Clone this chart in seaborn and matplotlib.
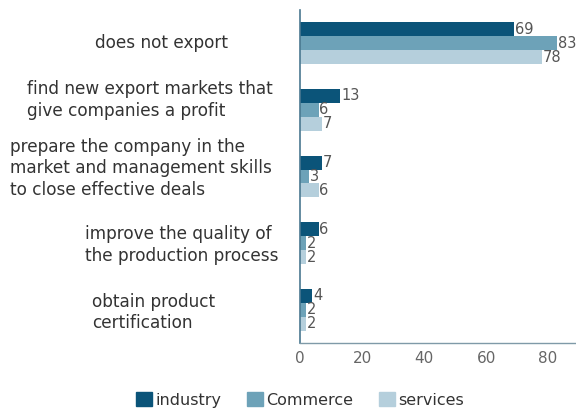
import matplotlib
matplotlib.use("Agg")
import matplotlib.pyplot as plt
import seaborn as sns
import pandas as pd

# Survey categories and the share of answers per sector
categories = [
    "does not export",
    "find new export markets that\ngive companies a profit",
    "prepare the company in the\nmarket and management skills\nto close effective deals",
    "improve the quality of\nthe production process",
    "obtain product\ncertification",
]
sectors = ["industry", "Commerce", "services"]
industry = [69, 13, 7, 6, 4]
commerce = [83, 6, 3, 2, 2]
services = [78, 7, 6, 2, 2]
x_ticks = [0, 20, 40, 60, 80]

colors = ["#0b5479", "#6da2b8", "#b5cfdc"]

df = pd.DataFrame({
    "category": categories * 3,
    "sector": [s for s in sectors for _ in categories],
    "value": industry + commerce + services,
})

sns.set_theme(style="white")
plt.rcParams["font.family"] = ["DejaVu Sans"]

fig = plt.figure(figsize=(5.76, 4.16), dpi=100)
W, H = 576, 416
ax = fig.add_axes([300 / W, (416 - 343) / H, 276 / W, 333 / H])

sns.barplot(data=df, y="category", x="value", hue="sector", order=categories,
            hue_order=sectors, palette=colors, orient="h", width=0.63,
            saturation=1, ax=ax, legend=False, gap=0, linewidth=0)

ax.set_xlim(0, 89)
ax.set_ylim(4.5, -0.5)
ax.set_xticks(x_ticks)
ax.set_xticklabels([str(t) for t in x_ticks], fontsize=11, color="#666666")
ax.tick_params(axis="x", length=0, pad=6)
ax.set_yticks([])
ax.set_xlabel("")
ax.set_ylabel("")

for side in ["top", "right"]:
    ax.spines[side].set_visible(False)
ax.spines["left"].set_color("#4a7890")
ax.spines["bottom"].set_color("#7f9aa8")
ax.spines["left"].set_linewidth(1.2)
ax.spines["bottom"].set_linewidth(1.0)

for cont in ax.containers:
    ax.bar_label(cont, padding=0.5, fontsize=10.5, color="#555555")

# Category labels, left-aligned blocks on the left side
label_left_px = [95, 27, 10, 85, 92]
label_dy_px = [0, 10, 8, -2, -3]
for i, (text, lx, dy) in enumerate(zip(categories, label_left_px, label_dy_px)):
    ax.annotate(text, xy=(lx / W, i), xycoords=("figure fraction", "data"),
                xytext=(0, dy), textcoords="offset pixels",
                ha="left", va="center", multialignment="left",
                fontsize=12.2, color="#333333", linespacing=1.25,
                annotation_clip=False)

handles = [plt.Rectangle((0, 0), 1, 1, color=c) for c in colors]
fig.legend(handles, sectors, loc="center", bbox_to_anchor=(300 / W, 1 - 400 / H),
           ncol=3, frameon=False, fontsize=11.5, handlelength=1.0,
           handleheight=1.0, handletextpad=0.2, columnspacing=1.6,
           labelcolor="#333333")

fig.savefig("out.png", dpi=100)
